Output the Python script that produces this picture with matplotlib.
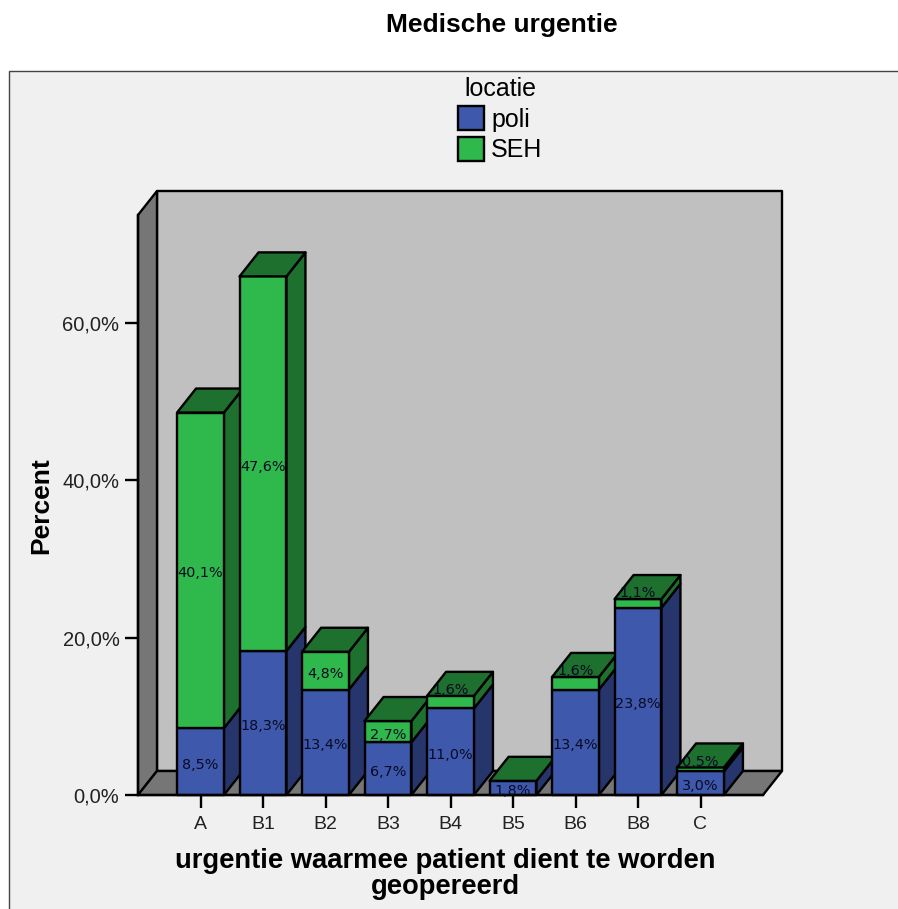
import matplotlib
matplotlib.use('Agg')
import matplotlib.pyplot as plt
from matplotlib.patches import Patch, Rectangle

categories = ['A', 'B1', 'B2', 'B3', 'B4', 'B5', 'B6', 'B8', 'C']
poli = [8.5, 18.3, 13.4, 6.7, 11.0, 1.8, 13.4, 23.8, 3.0]
seh = [40.1, 47.6, 4.8, 2.7, 1.6, 0.0, 1.6, 1.1, 0.5]
y_ticks = [0, 20, 40, 60]
y_ticklabels = ['0,0%', '20,0%', '40,0%', '60,0%']

W, H = 898, 909
plt.rcParams['font.family'] = ['Liberation Sans', 'DejaVu Sans']

BLUE, BLUE_SIDE = '#3e58ac', '#26356b'
GREEN, GREEN_DARK = '#2fb84c', '#1e702e'
LW = 1.7
DX, DY = 0.304, 3.05   # depth of the 3d effect in data units
BAR = 0.75
YMAX = 73.7

fig = plt.figure(figsize=(W / 100, H / 100), dpi=100, facecolor='white')
fig.patches.append(Rectangle((9 / W, -0.1), 1.1, 1.1 - 71 / H, transform=fig.transFigure,
                             facecolor='#f0f0f0', edgecolor='#444444', linewidth=1, zorder=-1))

ax = fig.add_axes([138 / W, 1 - 795 / H, 625 / W, 580 / H])
ax.set_facecolor('none')
ax.set_xlim(-1, 9)
ax.set_ylim(0, YMAX)


def poly(xs, ys, color):
    ax.fill(xs, ys, facecolor=color, edgecolor='black', linewidth=LW, clip_on=False,
            joinstyle='round')


# walls and floor
poly([-1 + DX, 9 + DX, 9 + DX, -1 + DX], [DY, DY, YMAX + DY, YMAX + DY], '#c0c0c0')
poly([-1, -1 + DX, -1 + DX, -1], [0, DY, YMAX + DY, YMAX], '#767676')
poly([-1, 9, 9 + DX, -1 + DX], [0, 0, DY, DY], '#767676')


def box(x, y0, y1, front, side):
    l, r = x - BAR / 2, x + BAR / 2
    poly([r, r + DX, r + DX, r], [y0, y0 + DY, y1 + DY, y1], side)
    poly([l, r, r, l], [y0, y0, y1, y1], front)


for i, (p, s) in enumerate(zip(poli, seh)):
    box(i, 0, p, BLUE, BLUE_SIDE)
    top = p + s
    if s > 0:
        box(i, p, top, GREEN, GREEN_DARK)
    l, r = i - BAR / 2, i + BAR / 2
    poly([l, r, r + DX, l + DX], [top, top, top + DY, top + DY], GREEN_DARK)

# value labels, thin green segments get pushed up onto the lid
for i, (p, s) in enumerate(zip(poli, seh)):
    ax.text(i, p / 2 - 0.4, f'{p:.1f}%'.replace('.', ','), ha='center', va='center',
            fontsize=10.4, family='DejaVu Sans', color='#0a0a25', clip_on=False)
    if s > 0:
        y = p + s + 0.75 if s < 2 else p + s / 2 - 0.4
        ax.text(i, y, f'{s:.1f}%'.replace('.', ','), ha='center', va='center',
                fontsize=10.4, family='DejaVu Sans', color='#0a0a25', clip_on=False)

ax.set_xticks(range(len(categories)))
ax.set_xticklabels(categories, fontsize=14, color='#222222')
ax.set_yticks(y_ticks)
ax.set_yticklabels(y_ticklabels, fontsize=14.5, color='#222222')
ax.tick_params(axis='both', length=9.4, width=LW, color='black')
ax.tick_params(axis='x', pad=5.5)
ax.tick_params(axis='y', pad=4)
for side in ['top', 'right']:
    ax.spines[side].set_visible(False)
for side in ['left', 'bottom']:
    ax.spines[side].set_linewidth(LW)

fig.text(502 / W, 1 - 25 / H, 'Medische urgentie', ha='center', va='center',
         fontsize=19, fontweight='bold')
fig.text(41 / W, 1 - 506 / H, 'Percent', ha='center', va='center', rotation=90,
         fontsize=19, fontweight='bold')
fig.text(445 / W, 1 - 874 / H, 'urgentie waarmee patient dient te worden\ngeopereerd',
         ha='center', va='center', fontsize=19.7, fontweight='bold', linespacing=1.03)

handles = [Patch(facecolor=BLUE, edgecolor='black', linewidth=LW, label='poli'),
           Patch(facecolor=GREEN, edgecolor='black', linewidth=LW, label='SEH')]
leg = fig.legend(handles=handles, title='locatie', frameon=False, fontsize=18,
                 title_fontsize=18, handlelength=1.05, handleheight=1.12, handletextpad=0.28,
                 labelspacing=0.2, borderpad=0, borderaxespad=0,
                 loc='upper left', bbox_to_anchor=(458 / W, 1 - 77 / H))

fig.savefig('out.png', dpi=100)
